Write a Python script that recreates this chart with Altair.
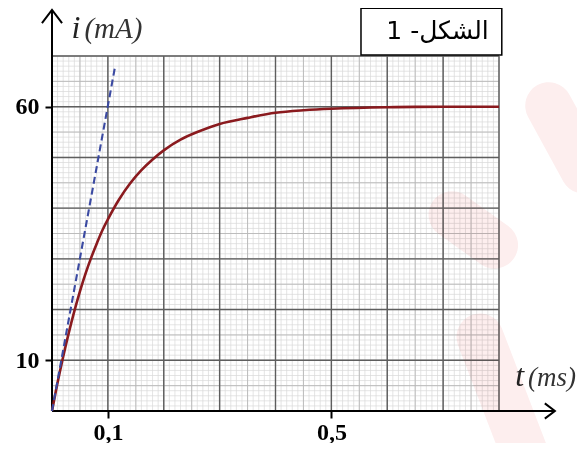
import altair as alt
import pandas as pd

# ---- data ----
t_ms = [0, 0.01, 0.02, 0.03, 0.04, 0.05, 0.06, 0.07, 0.08, 0.09, 0.10, 0.12, 0.14, 0.16,
        0.18, 0.20, 0.23, 0.26, 0.30, 0.35, 0.40, 0.45, 0.50, 0.60, 0.70, 0.80]
i_mA = [0, 5.6, 10.7, 15.4, 19.7, 23.6, 27.1, 30.2, 33.0, 35.6, 37.8, 41.7, 44.9, 47.5,
        49.6, 51.4, 53.5, 55.0, 56.6, 57.8, 58.8, 59.3, 59.6, 59.9, 60.0, 60.0]
tangent_t = [0, 0.113]
tangent_i = [0, 68]
x_tick_values = [0.1, 0.5]
y_tick_values = [10, 60]
fig_label = "الشكل- 1"
y_sym, y_unit = "i", "(mA)"
x_sym, x_unit = "t", "(ms)"

# grid values (graph paper: major every 0.1 / 10, half lines, fine lines)
minor_t = [round(k * 0.01, 2) for k in range(81)]
mid_t = [round(k * 0.05, 2) for k in range(17)]
major_t = [round(k * 0.1, 1) for k in range(9)]
minor_i = [k for k in range(71)]
mid_i = [k * 5 for k in range(15)]
major_i = [k * 10 for k in range(8)]

X = alt.Scale(domain=[0, 0.8], nice=False, zero=False)
Y = alt.Scale(domain=[0, 70], nice=False, zero=False)

XA = alt.Axis(
    values=x_tick_values, labelExpr="replace(format(datum.value, '.1f'), '.', ',')",
    domain=False, grid=False, tickSize=7, tickWidth=2, tickColor="black",
    labelFont="Liberation Serif", labelFontWeight="bold", labelFontSize=24,
    labelColor="black", labelPadding=2, title=None)
YA = alt.Axis(
    values=y_tick_values, format="d", domain=False, grid=False, tickSize=7,
    tickWidth=2, tickColor="black", labelFont="Liberation Serif",
    labelFontWeight="bold", labelFontSize=24, labelColor="black",
    labelPadding=6, title=None)


def ex(f="t:Q"):
    return alt.X(f, scale=X, axis=XA)


def ey(f="i:Q"):
    return alt.Y(f, scale=Y, axis=YA)


def vgrid(vals, color, w):
    return alt.Chart(pd.DataFrame({"t": vals})).mark_rule(color=color, strokeWidth=w).encode(x=ex())


def hgrid(vals, color, w):
    return alt.Chart(pd.DataFrame({"i": vals})).mark_rule(color=color, strokeWidth=w).encode(y=ey())


grid = [
    vgrid(minor_t, "#d9d9d9", 0.7), hgrid(minor_i, "#d9d9d9", 0.7),
    vgrid(mid_t, "#b8b8b8", 0.9), hgrid(mid_i, "#b8b8b8", 0.9),
    vgrid(major_t, "#5e5e5e", 1.4), hgrid(major_i, "#5e5e5e", 1.4),
]

# pale watermark strokes (data units)
blobs = pd.DataFrame({
    "b": [1, 1, 2, 2, 3, 3],
    "t": [0.889, 0.952, 0.716, 0.792, 0.766, 0.850],
    "i": [60.2, 47.5, 38.7, 32.7, 14.6, -9.5],
})
blob_layer = alt.Chart(blobs).mark_line(
    color="#fdeeee", strokeWidth=47, strokeCap="round", blend="multiply"
).encode(x=ex(), y=ey(), detail="b:N")

# axis lines with arrows
x_axis_line = alt.Chart(pd.DataFrame({"t": [0], "t2": [0.9], "i": [0]})).mark_rule(
    color="black", strokeWidth=2).encode(x=ex(), x2="t2:Q", y=ey())
y_axis_line = alt.Chart(pd.DataFrame({"t": [0], "i": [0], "i2": [79]})).mark_rule(
    color="black", strokeWidth=2).encode(x=ex(), y=ey(), y2="i2:Q")

arrows = pd.DataFrame({
    "a": [1, 1, 1, 2, 2, 2],
    "o": [0, 1, 2, 0, 1, 2],
    "t": [0.882, 0.9, 0.882, -0.018, 0, 0.018],
    "i": [1.5, 0, -1.5, 76.5, 79.1, 76.5],
})
arrow_layer = alt.Chart(arrows).mark_line(color="black", strokeWidth=2).encode(
    x=ex(), y=ey(), detail="a:N", order="o:Q")

# curve and tangent
curve = alt.Chart(pd.DataFrame({"t": t_ms, "i": i_mA})).mark_line(
    color="#8a1a1e", strokeWidth=2.6, interpolate="catmull-rom").encode(x=ex(), y=ey())
tangent = alt.Chart(pd.DataFrame({"t": tangent_t, "i": tangent_i})).mark_line(
    color="#3b4aa2", strokeWidth=2.1, strokeDash=[7, 4]).encode(x=ex(), y=ey())


def label(t, i, txt, size, **kw):
    return alt.Chart(pd.DataFrame({"t": [t], "i": [i], "s": [txt]})).mark_text(
        fontSize=size, **kw).encode(x=ex(), y=ey(), text="s:N")


box = alt.Chart(pd.DataFrame({"t": [0.553], "t2": [0.805], "i": [70.2], "i2": [79.4]})).mark_rect(
    fill="white", stroke="black", strokeWidth=1.5).encode(x=ex(), x2="t2:Q", y=ey(), y2="i2:Q")

texts = [
    label(0.043, 75.6, y_sym, 32, font="Liberation Serif", fontStyle="italic", color="#222222"),
    label(0.058, 75.4, y_unit, 29, font="Liberation Serif", fontStyle="italic", color="#333333",
          align="left"),
    label(0.837, 7.0, x_sym, 32, font="Liberation Serif", fontStyle="italic", color="#222222"),
    label(0.852, 6.6, x_unit, 27, font="Liberation Serif", fontStyle="italic", color="#333333",
          align="left"),
    label(0.69, 75.0, fig_label, 25, font="DejaVu Sans", color="black", dir="rtl", align="center"),
]

chart = alt.layer(
    *grid, blob_layer, x_axis_line, y_axis_line, arrow_layer, curve, tangent, box, *texts
).properties(
    width=447, height=355, autosize="none",
    padding={"left": 44, "top": 48, "right": 78, "bottom": 32},
    background="white",
).configure_view(stroke=None)

chart.save("out.html", embed_options={"renderer": "svg", "actions": False})
